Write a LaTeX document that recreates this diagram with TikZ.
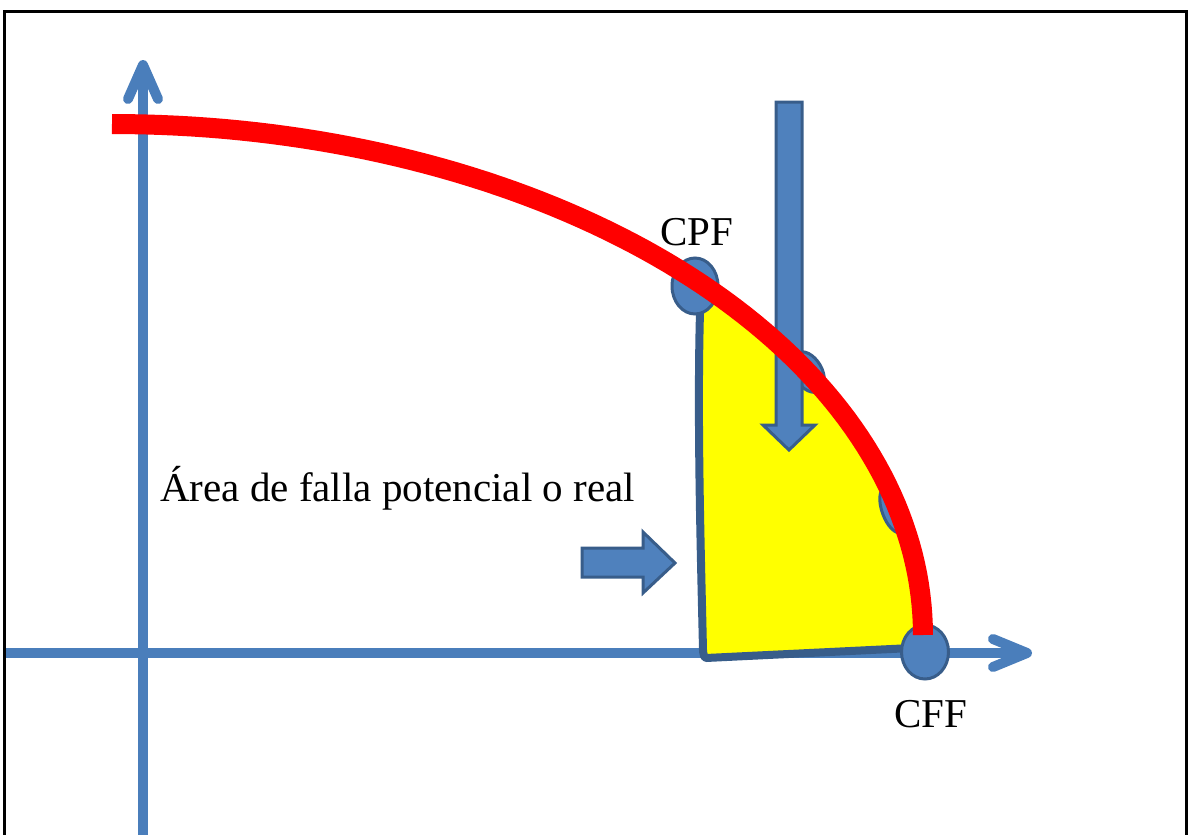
\documentclass[tikz,border=0pt]{standalone}
\usepackage{fontspec}
\setmainfont{Liberation Serif}
\definecolor{axisblue}{HTML}{4A7EBB}
\definecolor{fillblue}{HTML}{4F81BD}
\definecolor{lineblue}{HTML}{385D8A}
\definecolor{yel}{RGB}{255,255,0}
\definecolor{rd}{RGB}{255,0,0}
\tikzset{
  axisline/.style={draw=axisblue, line width=10pt},
  axishead/.style={draw=axisblue, line width=10pt, line cap=round, line join=round},
  blockarrow/.style={fill=fillblue, draw=lineblue, line width=3pt, line join=miter},
  marker/.style={ellipse, fill=fillblue, draw=lineblue, line width=3pt, inner sep=0pt},
  label/.style={font=\fontsize{41}{48}\selectfont, inner sep=0pt},
  frontier/.style={draw=rd, line width=20pt, line cap=butt}
}
\usetikzlibrary{shapes.geometric}
\begin{document}
\begin{tikzpicture}[x=1pt, y=-1pt]
\useasboundingbox (0,0) rectangle (1189,835);
% frame
\draw[line width=3pt] (4,835) -- (4,11) -- (1186,11) -- (1186,835);
% axes
\draw[axisline] (143,835) -- (143,68);
\draw[axishead] (128,99) -- (143,65) -- (158,99);
\draw[axisline] (6,653) -- (1024,653);
\draw[axishead] (993,639) -- (1027,653) -- (993,667);
% yellow area
\path[fill=yel, draw=lineblue, line width=8pt, line join=round]
  (706,658) -- (912,648) -- (923,635)
  -- plot[domain=90:47, samples=40] ({112+811*sin(\x)}, {635-511*cos(\x)})
  -- (700,312) .. controls (697,420) and (701,560) .. (703,650) to[out=90,in=180] (706,658) -- cycle;
% hidden markers under the frontier
\node[marker, minimum width=28pt, minimum height=44pt, rotate=30] (m1) at (808,372) {};
\node[marker, minimum width=22pt, minimum height=48pt, rotate=20] (m2) at (893,510) {};
\fill[yel] (870,470) -- (885,540) -- (860,560) -- cycle;
% block arrows
\path[blockarrow] (776,102) -- (802,102) -- (802,425) -- (815,425) -- (789,450)
  -- (763,425) -- (776,425) -- cycle;
\path[blockarrow] (582,548) -- (643,548) -- (643,532) -- (675,563) -- (643,593)
  -- (643,577) -- (582,577) -- cycle;
% markers
\node[marker, minimum width=46pt, minimum height=56pt] (cpf) at (695,286) {};
\node[marker, minimum width=47pt, minimum height=54pt] (cff) at (925,652) {};
% frontier curve
\draw[frontier] plot[domain=0:90, samples=80] ({112+811*sin(\x)}, {635-511*cos(\x)});
% labels
\node[label] (cpflabel) at (697,232) {CPF};
\node[label] (cfflabel) at (931,714) {CFF};
\node[label, anchor=base west] (area) at (160,501) {Área de falla potencial o real};
\end{tikzpicture}
\end{document}
